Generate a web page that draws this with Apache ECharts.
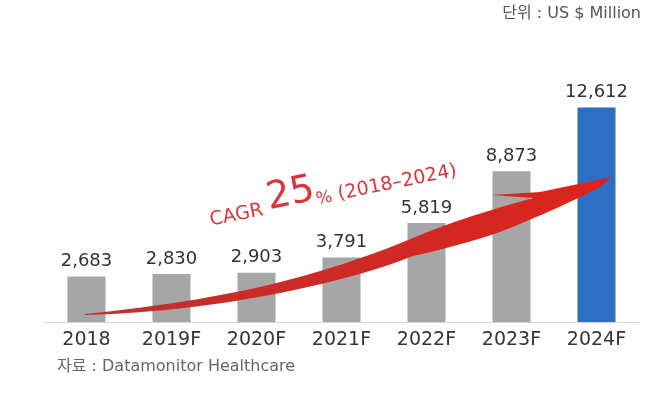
<!DOCTYPE html>
<html>
<head>
<meta charset="utf-8">
<script src="https://cdn.jsdelivr.net/npm/echarts@6/dist/echarts.min.js"></script>
<style>
  html, body { margin: 0; padding: 0; background: #fff; }
  #chart { width: 670px; height: 398px; }
</style>
</head>
<body>
<div id="chart"></div>
<script>
// data
const years = ['2018', '2019F', '2020F', '2021F', '2022F', '2023F', '2024F'];
const marketSize = [2683, 2830, 2903, 3791, 5819, 8873, 12612];
const barColors = ['#a6a6a6', '#a6a6a6', '#a6a6a6', '#a6a6a6', '#a6a6a6', '#a6a6a6', '#2e6fc3'];

const chart = echarts.init(document.getElementById('chart'));
const font = "'DejaVu Sans', 'Noto Sans CJK KR', sans-serif";
const red = '#d8363b';

// red growth arrow, only a decoration over the bars
// outline made of cubic segments [p0, c1, c2, p1] and straight corners
function cubic(p0, c1, c2, p1, n) {
  const pts = [];
  for (let i = 0; i <= n; i++) {
    const t = i / n, u = 1 - t;
    pts.push([
      u * u * u * p0[0] + 3 * u * u * t * c1[0] + 3 * u * t * t * c2[0] + t * t * t * p1[0],
      u * u * u * p0[1] + 3 * u * u * t * c1[1] + 3 * u * t * t * c2[1] + t * t * t * p1[1]
    ]);
  }
  return pts;
}
const arrowPts = [].concat(
  cubic([85, 314], [200, 302], [300, 285], [413, 238], 24),
  cubic([413, 238], [450, 222], [490, 210], [533, 198], 8),
  [[492, 195], [540, 192], [612, 177], [600, 187]],
  cubic([600, 187], [580, 198], [540, 216], [500, 232], 8),
  cubic([500, 232], [470, 242], [440, 250], [413, 256], 8),
  cubic([413, 256], [340, 285], [210, 312], [85, 315], 24)
);

const option = {
  animation: false,
  grid: { left: 44, right: 31, top: 84, bottom: 76 },
  xAxis: {
    type: 'category',
    data: years,
    axisTick: { show: false },
    axisLine: { lineStyle: { color: '#d6d6d6', width: 1 } },
    axisLabel: { color: '#333', fontSize: 19, fontFamily: font, margin: 9 }
  },
  yAxis: { type: 'value', min: 0, max: 14000, show: false, splitLine: { show: false } },
  series: [{
    type: 'bar',
    data: marketSize.map((v, i) => ({ value: v, itemStyle: { color: barColors[i] } })),
    barWidth: 38,
    z: 1,
    label: {
      show: true,
      position: 'top',
      distance: 6,
      color: '#333',
      fontSize: 18,
      fontFamily: font,
      formatter: p => p.value.toLocaleString('en-US')
    }
  }],
  graphic: [
    {
      type: 'polygon',
      z: 10,
      shape: { points: arrowPts },
      style: {
        fill: new echarts.graphic.LinearGradient(0, 0, 1, 0, [
          { offset: 0, color: '#c0302e' },
          { offset: 1, color: '#dd231d' }
        ])
      }
    },
    {
      type: 'text',
      z: 11,
      x: 212,
      y: 230,
      rotation: 0.2,
      style: {
        text: '{a|CAGR }{b|25}{c|%}{a| (2018–2024)}',
        fill: red,
        verticalAlign: 'bottom',
        rich: {
          a: { fontSize: 19, fontFamily: font, fill: red, verticalAlign: 'bottom' },
          b: { fontSize: 38, fontFamily: font, fill: red, verticalAlign: 'bottom' },
          c: { fontSize: 17, fontFamily: font, fill: red, verticalAlign: 'bottom' }
        }
      }
    },
    {
      type: 'text',
      right: 29,
      top: 6,
      style: { text: '단위 : US $ Million', fontSize: 16, fontFamily: font, fill: '#555' }
    },
    {
      type: 'text',
      left: 57,
      top: 359,
      style: { text: '자료 : Datamonitor Healthcare', fontSize: 16, fontFamily: font, fill: '#666' }
    }
  ]
};

chart.setOption(option);
</script>
</body>
</html>
